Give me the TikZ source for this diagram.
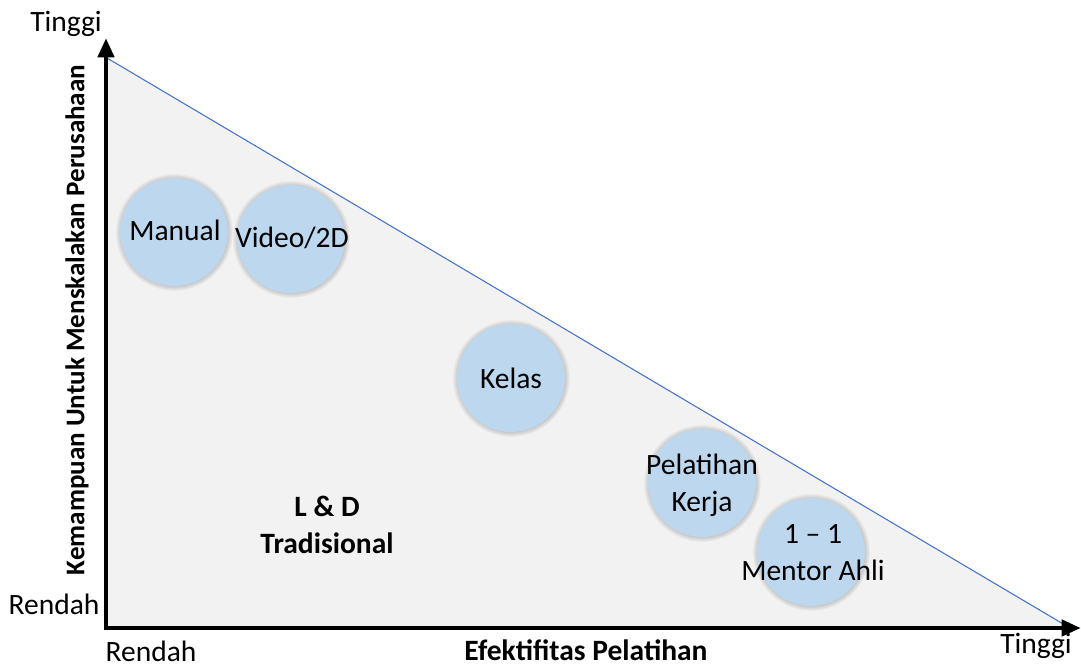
\documentclass[tikz,border=0pt]{standalone}
\usepackage{fontspec}
\setmainfont{Carlito}
\usetikzlibrary{arrows.meta,shadows}

\tikzset{
  bubble/.style={circle, minimum size=2.16cm, inner sep=0pt, fill=bubbleblue,
    circular drop shadow={shadow xshift=0pt, shadow yshift=0pt, shadow scale=1.09, opacity=.55, fill=black!55}},
  lbl/.style={inner sep=0pt, align=center, font=\fontsize{16.8}{21}\selectfont},
  axis/.style={line width=2.8pt, -{Triangle[length=11pt, width=9pt]}}
}
\definecolor{bubbleblue}{HTML}{BDD7EE}
\definecolor{hypblue}{HTML}{4472C4}
\definecolor{areagray}{HTML}{F2F2F2}

\begin{document}
\begin{tikzpicture}[x=0.02cm, y=-0.02cm]
\useasboundingbox (0,0) rectangle (1081,667);

% Corners of the triangle
\coordinate (O) at (106,628);
\coordinate (A) at (107,58);
\coordinate (B) at (1070,628);
\coordinate (ytop) at (106,38);
\coordinate (xend) at (1081,628);

% Shaded area and hypotenuse
\fill[areagray] (O) -- (A) -- (B) -- cycle;
\draw[hypblue, line width=0.6pt] (A) -- (B);

% Axes
\draw[axis] (O) -- (ytop);
\draw[axis] ([xshift=-1.4pt]O) -- (xend);

% Bubbles (circle, then its text)
\foreach \nm/\x/\y/\tx/\ty/\txt in {manual/174/232/175/230/Manual, video/291/239/292/238/{Video/2D},
    kelas/511/378/511/378/Kelas, kerja/702/483/702/485/{Pelatihan\\Kerja},
    mentor/811/552/813/553/{1 -- 1\\Mentor Ahli}} {
  \node[bubble] (\nm) at (\x,\y) {};
  \node[lbl] (\nm-txt) at (\tx,\ty) {\txt};
}

% Labels
\node[lbl] (ytinggi) at (66,24) {Tinggi};
\node[lbl] (yrendah) at (54,604) {Rendah};
\node[lbl] (xrendah) at (151,651) {Rendah};
\node[lbl] (xtinggi) at (1036,646) {Tinggi};
\node[lbl, font=\fontsize{16.8}{21}\selectfont\bfseries] (xtitle) at (586,650) {Efektifitas Pelatihan};
\node[lbl, font=\fontsize{15.4}{21}\selectfont\bfseries, rotate=90] (ytitle) at (77,320) {Kemampuan Untuk Menskalakan Perusahaan};
\node[lbl, font=\fontsize{16.8}{21}\selectfont\bfseries] (trad) at (327,525) {L \& D\\Tradisional};

\end{tikzpicture}
\end{document}
